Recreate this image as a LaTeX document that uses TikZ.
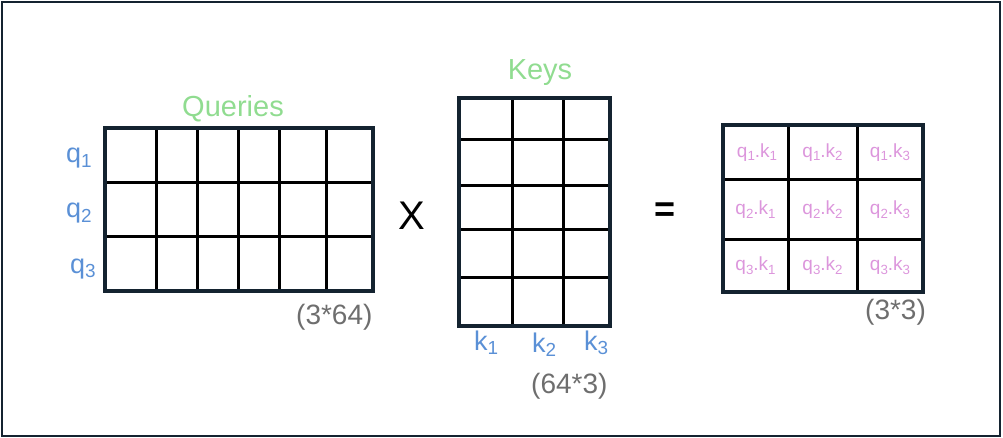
\documentclass[tikz,border=0pt]{standalone}
\usepackage{fontspec}
\setmainfont{Liberation Sans}
\definecolor{navy}{RGB}{20,35,48}
\definecolor{lgreen}{RGB}{144,220,144}
\definecolor{qblue}{RGB}{90,144,214}
\definecolor{pinkl}{RGB}{220,150,220}
\definecolor{greyt}{RGB}{110,110,110}
\newcommand\sbs[1]{\raisebox{-0.35ex}{\scalebox{0.7}{#1}}}
\tikzset{
  matbox/.style={draw=navy, line width=3.5pt, inner sep=0pt, outer sep=0pt},
  gridline/.style={black, line width=3pt},
  title/.style={text=lgreen, inner sep=0pt, font=\fontsize{29}{31}\selectfont},
  vlab/.style={text=qblue, inner sep=0pt, font=\fontsize{27}{29}\selectfont},
  dims/.style={text=greyt, inner sep=0pt, font=\fontsize{28}{30}\selectfont},
  prod/.style={text=pinkl, inner sep=0pt, font=\fontsize{19}{21}\selectfont},
  opsym/.style={text=black, inner sep=0pt, font=\fontsize{40}{42}\selectfont},
}
\begin{document}
\begin{tikzpicture}[x=1pt,y=-1pt]
\useasboundingbox (0,0) rectangle (1003,438);
\draw[line width=2.5pt, draw=navy] (2,2) rectangle (1000,436);

% Queries grid
\foreach \x in {156,197,238,279,326} \draw[gridline] (\x,128) -- (\x,291);
\foreach \y in {183,237} \draw[gridline] (105,\y) -- (373,\y);
\node[matbox, minimum width=268pt, minimum height=163pt] (Q) at (239,209.5) {};

% Keys grid
\foreach \x in {512,563} \draw[gridline] (\x,98) -- (\x,326);
\foreach \y in {140,186,230,277} \draw[gridline] (459,\y) -- (610,\y);
\node[matbox, minimum width=151pt, minimum height=228pt] (K) at (534.5,212) {};

% Result grid
\foreach \x in {788,857} \draw[gridline] (\x,125) -- (\x,292);
\foreach \y in {180,240} \draw[gridline] (723,\y) -- (923,\y);
\node[matbox, minimum width=200pt, minimum height=167pt] (R) at (823,208.5) {};

% titles
\node[title, anchor=base] (tq) at (233,117) {Queries};
\node[title, anchor=base] (tk) at (540,80) {Keys};

% query labels
\node[vlab, anchor=base west] (q1) at (66,163) {q\sbs{1}};
\node[vlab, anchor=base west] (q2) at (66,218) {q\sbs{2}};
\node[vlab, anchor=base west] (q3) at (70,273) {q\sbs{3}};

% key labels
\node[vlab, anchor=base west] (k1) at (474,350) {k\sbs{1}};
\node[vlab, anchor=base west] (k2) at (532,352) {k\sbs{2}};
\node[vlab, anchor=base west] (k3) at (584,350) {k\sbs{3}};

% dims
\node[dims, anchor=base west] (dq) at (296,324) {(3*64)};
\node[dims, anchor=base west] (dk) at (531,393) {(64*3)};
\node[dims, anchor=base west] (dr) at (865,319) {(3*3)};

% operators
\node[opsym] (times) at (412,216) {X};
\node[opsym, font=\fontsize{36}{38}\selectfont\bfseries] (eq) at (665,212) {=};

% products
\node[prod] (p11) at (757,152.5) {q\sbs{1}.k\sbs{1}};
\node[prod] (p12) at (822.5,152.5) {q\sbs{1}.k\sbs{2}};
\node[prod] (p13) at (890,152.5) {q\sbs{1}.k\sbs{3}};
\node[prod] (p21) at (755.5,210) {q\sbs{2}.k\sbs{1}};
\node[prod] (p22) at (822.5,210) {q\sbs{2}.k\sbs{2}};
\node[prod] (p23) at (890,210) {q\sbs{2}.k\sbs{3}};
\node[prod] (p31) at (755.5,266) {q\sbs{3}.k\sbs{1}};
\node[prod] (p32) at (822.5,266) {q\sbs{3}.k\sbs{2}};
\node[prod] (p33) at (890,266) {q\sbs{3}.k\sbs{3}};
\end{tikzpicture}
\end{document}
